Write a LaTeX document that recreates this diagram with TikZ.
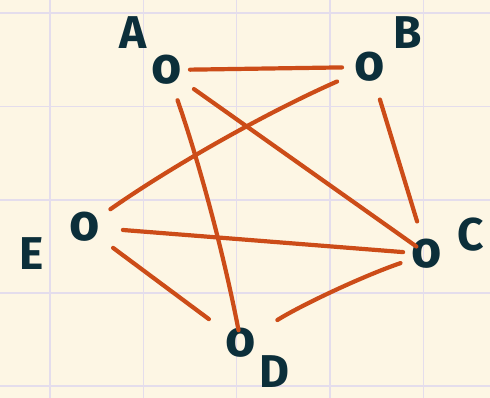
\documentclass[tikz,border=0pt]{standalone}
\usepackage{fontspec}
\setmainfont{Fira Sans}
\definecolor{bgc}{HTML}{FDF6E4}
\definecolor{gridc}{HTML}{E4DDEC}
\definecolor{edgec}{HTML}{CC4C18}
\definecolor{inkc}{HTML}{0C2F3A}
\begin{document}
\begin{tikzpicture}[x=1pt,y=-1pt,
  edge/.style={draw=edgec, line width=4.2pt, line cap=round},
  gridline/.style={draw=gridc, line width=1.5pt},
  vert/.style={text=inkc, font=\fontsize{52}{52}\selectfont\bfseries, inner sep=0pt},
  lab/.style={text=inkc, font=\fontsize{46}{46}\selectfont\bfseries, inner sep=0pt}]
\fill[bgc] (0,0) rectangle (490,398);
\useasboundingbox (0,0) rectangle (490,398);
\foreach \x in {50,143.3,236.7,330,423.3} \draw[gridline] (\x,0) -- (\x,398);
\foreach \y in {13,106.5,200,293,386} \draw[gridline] (0,\y) -- (490,\y);
% vertices
\node[vert] (vA) at (167,70) {o};
\node[vert] (vB) at (370,67) {o};
\node[vert] (vC) at (427,254) {o};
\node[vert] (vD) at (241,343) {o};
\node[vert] (vE) at (85,227) {o};
% labels
\node[lab] (lA) at (133,33) {A};
\node[lab] (lB) at (408,33) {B};
\node[lab] (lC) at (471,235) {C};
\node[lab] (lD) at (274,372) {D};
\node[lab] (lE) at (32,254) {E};
% edges
\draw[edge, shorten <=23pt, shorten >=28pt] (vA.center) -- (vB.center);
\draw[edge, shorten <=33pt, shorten >=13pt] (vA.center) -- (vC.center);
\draw[edge, shorten <=32pt, shorten >=13pt] (vA.center) .. controls (198,159) and (223,250) .. (vD.center);
\draw[edge, shorten <=36pt, shorten >=31pt] (vB.center) .. controls (270,111) and (175,164) .. (vE.center);
\draw[edge, shorten <=34pt, shorten >=34pt] (vB.center) -- (vC.center);
\draw[edge, shorten <=38pt, shorten >=24pt] (vE.center) -- (vC.center);
\draw[edge, shorten <=35pt, shorten >=40pt] (vE.center) -- (vD.center);
\draw[edge, shorten <=43pt, shorten >=28pt] (vD.center) .. controls (299.6,306) and (361.6,276.5) .. (vC.center);
\end{tikzpicture}
\end{document}
